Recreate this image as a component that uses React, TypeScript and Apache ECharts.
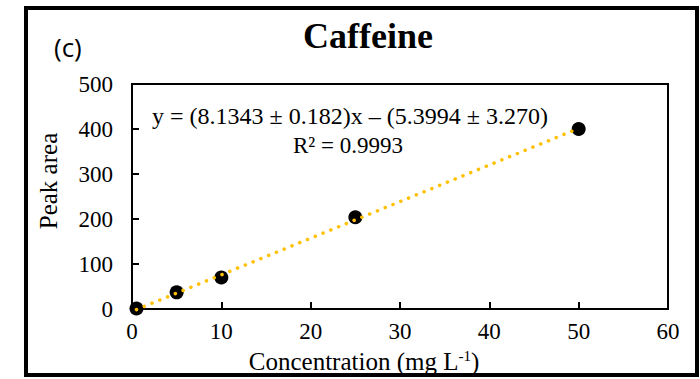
import React, { useEffect, useRef } from "react";
import * as echarts from "echarts";

const concentrations = [0.5, 5, 10, 25, 50];
const peakAreas = [1, 37, 70, 204, 400];
const slope = 8.1343;
const intercept = -5.3994;
const trendRange = [0.5, 50];
const xTickMin = 0;
const xTickMax = 60;
const xTickStep = 10;
const yTickMin = 0;
const yTickMax = 500;
const yTickStep = 100;
const titleText = "Caffeine";
const panelLabel = "(c)";
const equationText = "y = (8.1343 \u00b1 0.182)x \u2013 (5.3994 \u00b1 3.270)";
const r2Text = "R\u00b2 = 0.9993";
const yName = "Peak area";

const serif = "Liberation Serif";

export default function App() {
  const ref = useRef<HTMLDivElement>(null);
  useEffect(() => {
    document.body.style.margin = "0";
    if (!ref.current) return;
    const chart = echarts.init(ref.current, undefined, { renderer: "svg" });
    const option: any = {
      animation: false,
      backgroundColor: "#ffffff",
      textStyle: { fontFamily: serif },
      grid: {
        left: 132,
        right: 32,
        top: 84,
        bottom: 70,
        show: true,
        borderColor: "#000",
        borderWidth: 2,
        backgroundColor: "transparent",
      },
      xAxis: {
        type: "value",
        min: xTickMin,
        max: xTickMax,
        interval: xTickStep,
        axisLine: { show: true, onZero: false, lineStyle: { color: "#000", width: 2 } },
        axisTick: { show: true, inside: true, length: 7, lineStyle: { color: "#000", width: 2 } },
        axisLabel: { color: "#000", fontFamily: serif, fontSize: 23, margin: 11 },
        splitLine: { show: false },
      },
      yAxis: {
        type: "value",
        min: yTickMin,
        max: yTickMax,
        interval: yTickStep,
        axisLine: { show: true, onZero: false, lineStyle: { color: "#000", width: 2 } },
        axisTick: { show: true, inside: true, length: 7, lineStyle: { color: "#000", width: 2 } },
        axisLabel: { color: "#000", fontFamily: serif, fontSize: 23, margin: 19 },
        splitLine: { show: false },
      },
      series: [
        {
          type: "scatter",
          data: concentrations.map((x, i) => [x, peakAreas[i]]),
          symbolSize: 14,
          itemStyle: { color: "#000", opacity: 1 },
          z: 2,
        },
        {
          type: "line",
          data: trendRange.map((x) => [x, slope * x + intercept]),
          symbol: "none",
          showSymbol: false,
          clip: false,
          lineStyle: { color: "#FFC000", width: 3.5, type: [0.1, 8.3], cap: "round" },
          z: 3,
        },
      ],
      graphic: [
        {
          type: "rect",
          shape: { x: 26, y: 8, width: 671, height: 367 },
          style: { fill: "none", stroke: "#000", lineWidth: 4 },
          z: 10,
        },
        {
          type: "text",
          x: 368,
          y: 36,
          style: {
            text: titleText,
            fill: "#000",
            font: "bold 36px Liberation Serif",
            align: "center",
            verticalAlign: "middle",
          },
        },
        {
          type: "text",
          x: 54,
          y: 47,
          style: {
            text: panelLabel,
            fill: "#000",
            font: "26px Open Sans",
            align: "left",
            verticalAlign: "middle",
          },
        },
        {
          type: "text",
          x: 350,
          y: 116,
          style: {
            text: equationText,
            fill: "#000",
            font: "24px Liberation Serif",
            align: "center",
            verticalAlign: "middle",
          },
        },
        {
          type: "text",
          x: 348,
          y: 145,
          style: {
            text: r2Text,
            fill: "#000",
            font: "23px Liberation Serif",
            align: "center",
            verticalAlign: "middle",
          },
        },
        {
          type: "text",
          x: 48,
          y: 181,
          rotation: Math.PI / 2,
          style: {
            text: yName,
            fill: "#000",
            font: "25px Liberation Serif",
            align: "center",
            verticalAlign: "middle",
          },
        },
        {
          type: "text",
          x: 364,
          y: 361,
          style: {
            text: "{a|Concentration (mg L}{s|-1}{a|)}",
            fill: "#000",
            align: "center",
            verticalAlign: "middle",
            rich: {
              a: { fontFamily: serif, fontSize: 25, fill: "#000" },
              s: { fontFamily: serif, fontSize: 15, fill: "#000", verticalAlign: "top" },
            },
          },
        },
      ],
    };
    chart.setOption(option);
    return () => chart.dispose();
  }, []);
  return <div ref={ref} style={{ width: 700, height: 379 }} />;
}
